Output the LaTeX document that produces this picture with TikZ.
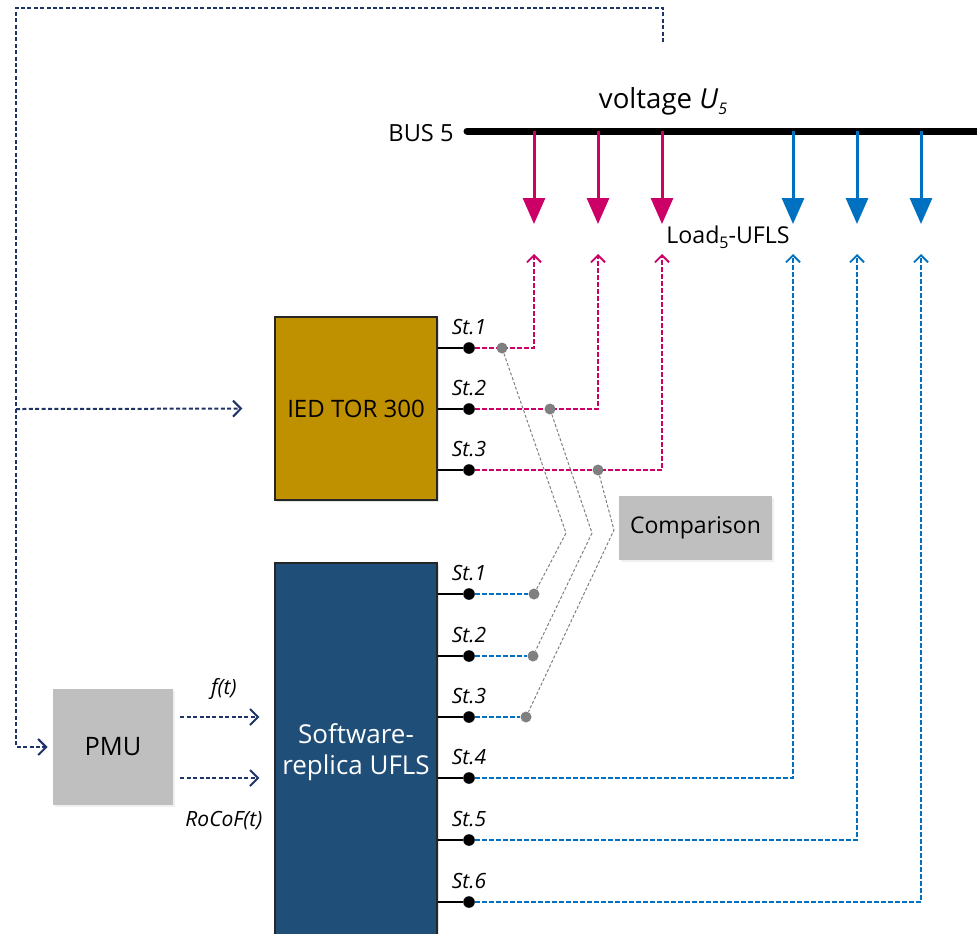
\documentclass[tikz,border=0pt]{standalone}
\usepackage{fontspec}
\setmainfont{Open Sans}
\usetikzlibrary{arrows.meta, positioning, shadows}
\definecolor{ufmagenta}{HTML}{CC0066}
\definecolor{ufblue}{HTML}{0070C0}
\definecolor{ufnavy}{HTML}{1F3466}
\definecolor{ufgold}{HTML}{BF9000}
\definecolor{ufdark}{HTML}{1F4E79}
\definecolor{ufgrey}{HTML}{BFBFBF}
\newcommand{\lowidx}[1]{\raisebox{-0.4ex}{\footnotesize #1}}

\begin{document}
\begin{tikzpicture}[x=0.5pt, y=-0.5pt,
    block/.style={rectangle, draw=black!85, line width=0.6pt, fill=#1, inner sep=0pt, align=center,
                  drop shadow={opacity=0.22, shadow xshift=1.2pt, shadow yshift=-1.2pt}},
    greybox/.style={rectangle, fill=ufgrey, inner sep=0pt, align=center,
                  drop shadow={opacity=0.12, shadow xshift=1pt, shadow yshift=-1pt}},
    term/.style={circle, fill=black, inner sep=0pt, minimum size=5.8pt,
                 label={[font=\fontsize{10.5}{12}\selectfont\itshape, label distance=0pt]above:#1}},
    gdot/.style={circle, fill=black!50, inner sep=0pt, minimum size=5.5pt},
    stub/.style={line width=0.6pt, black},
    loadarrow/.style={-{Triangle[length=13pt, width=11pt]}, line width=1.5pt, #1},
    trip/.style={-{Straight Barb[length=3.5pt, width=7pt]}, line width=0.9pt, #1,
                 dash pattern=on 2.2pt off 1.3pt},
    meas/.style={-{Straight Barb[length=4pt, width=8pt]}, line width=1pt, ufnavy,
                 dash pattern=on 2pt off 1.2pt},
    sig/.style={font=\fontsize{10.5}{12}\selectfont\itshape, text=black},
    cmpline/.style={line width=0.5pt, black!50, dash pattern=on 1.5pt off 1pt}
  ]
    \useasboundingbox (0,0) rectangle (977,933);

    % bus 5 and load feeders
    \node[font=\fontsize{11.8}{13}\selectfont] (buslbl) at (421,133) {BUS 5};
    \node[font=\fontsize{13.8}{15}\selectfont] (volt) at (663,101) {voltage \textit{U}\lowidx{\textit{5}}};
    \coordinate (busL) at (467,131);
    \coordinate (busR) at (990,131);
    \draw[line width=3.5pt, line cap=round] (busL) -- (busR);
    \coordinate (bm1) at (534,131);
    \coordinate (bm2) at (598,131);
    \coordinate (bm3) at (662,131);
    \coordinate (bb4) at (793,131);
    \coordinate (bb5) at (857,131);
    \coordinate (bb6) at (921,131);
    \coordinate (lm1) at (534,224);
    \coordinate (lm2) at (598,224);
    \coordinate (lm3) at (662,224);
    \coordinate (lb4) at (793,224);
    \coordinate (lb5) at (857,224);
    \coordinate (lb6) at (921,224);
    \draw[loadarrow=ufmagenta] (bm1) -- (lm1);
    \draw[loadarrow=ufmagenta] (bm2) -- (lm2);
    \draw[loadarrow=ufmagenta] (bm3) -- (lm3);
    \draw[loadarrow=ufblue] (bb4) -- (lb4);
    \draw[loadarrow=ufblue] (bb5) -- (lb5);
    \draw[loadarrow=ufblue] (bb6) -- (lb6);
    \node[font=\fontsize{11.6}{13}\selectfont] (load) at (728,237) {Load\lowidx{5}-UFLS};
    \coordinate (rm1) at (534,254);
    \coordinate (rm2) at (598,254);
    \coordinate (rm3) at (662,254);
    \coordinate (rb4) at (793,254);
    \coordinate (rb5) at (857,254);
    \coordinate (rb6) at (921,254);

    % relays
    \node[block=ufgold, minimum width=81pt, minimum height=91.5pt,
          font=\fontsize{12}{14}\selectfont] (ied) at (356,408.5) {IED TOR 300};
    \node[block=ufdark, minimum width=81pt, minimum height=189pt, text=white,
          font=\fontsize{13}{15.5}\selectfont] (sw) at (356,752) {Software-\\replica UFLS};
    \node[greybox, minimum width=60pt, minimum height=58pt,
          font=\fontsize{12.7}{14}\selectfont] (pmu) at (113,747) {PMU};
    \node[greybox, minimum width=76.5pt, minimum height=32pt,
          font=\fontsize{11.5}{13}\selectfont] (cmp) at (695.5,528) {Comparison};

    % stage outputs
    \node[term=St.1] (i1) at (469,348) {};
    \node[term=St.2] (i2) at (469,409) {};
    \node[term=St.3] (i3) at (469,470) {};
    \node[term=St.1] (s1) at (469,594) {};
    \node[term=St.2] (s2) at (469,656) {};
    \node[term=St.3] (s3) at (469,717) {};
    \node[term=St.4] (s4) at (469,778) {};
    \node[term=St.5] (s5) at (469,840) {};
    \node[term=St.6] (s6) at (469,902) {};
    \draw[stub] (ied.east |- i1) -- (i1);
    \draw[stub] (ied.east |- i2) -- (i2);
    \draw[stub] (ied.east |- i3) -- (i3);
    \draw[stub] (sw.east |- s1) -- (s1);
    \draw[stub] (sw.east |- s2) -- (s2);
    \draw[stub] (sw.east |- s3) -- (s3);
    \draw[stub] (sw.east |- s4) -- (s4);
    \draw[stub] (sw.east |- s5) -- (s5);
    \draw[stub] (sw.east |- s6) -- (s6);

    % trip signals
    \draw[trip=ufmagenta] (i1) -| (rm1);
    \draw[trip=ufmagenta] (i2) -| (rm2);
    \draw[trip=ufmagenta] (i3) -| (rm3);
    \draw[trip=ufblue] (s4) -| (rb4);
    \draw[trip=ufblue] (s5) -| (rb5);
    \draw[trip=ufblue] (s6) -| (rb6);
    \node[gdot] (g1) at (502,348) {};
    \node[gdot] (g2) at (550,409) {};
    \node[gdot] (g3) at (598,470) {};
    \node[gdot] (h1) at (534,594) {};
    \node[gdot] (h2) at (533,656) {};
    \node[gdot] (h3) at (526,717) {};
    \draw[trip=ufblue, -] (s1) -- (h1);
    \draw[trip=ufblue, -] (s2) -- (h2);
    \draw[trip=ufblue, -] (s3) -- (h3);

    % comparison links
    \coordinate (k1) at (566,533);
    \coordinate (k2) at (592,533);
    \coordinate (k3) at (614,530);
    \draw[cmpline] (g1) -- (k1) -- (h1);
    \draw[cmpline] (g2) -- (k2) -- (h2);
    \draw[cmpline] (g3) -- (k3) -- (h3);

    % measurement
    \coordinate (vtap) at (663,42);
    \coordinate (nwc) at (16,8);
    \coordinate (tap) at (16,409);
    \draw[meas, shorten >=2.5pt] (vtap) |- (nwc) |- (pmu.west);
    \draw[meas, shorten >=16pt] (tap) -- (ied.west);
    \draw[meas, shorten <=3.5pt, shorten >=7.5pt] (pmu.east |- s3) -- (sw.west |- s3)
        node[midway, above=5pt, sig] (flbl) {f(t)};
    \draw[meas, shorten <=3.5pt, shorten >=7.5pt] (pmu.east |- s4) -- (sw.west |- s4)
        node[midway, below=13pt, sig] (rlbl) {RoCoF(t)};
  \end{tikzpicture}
\end{document}
